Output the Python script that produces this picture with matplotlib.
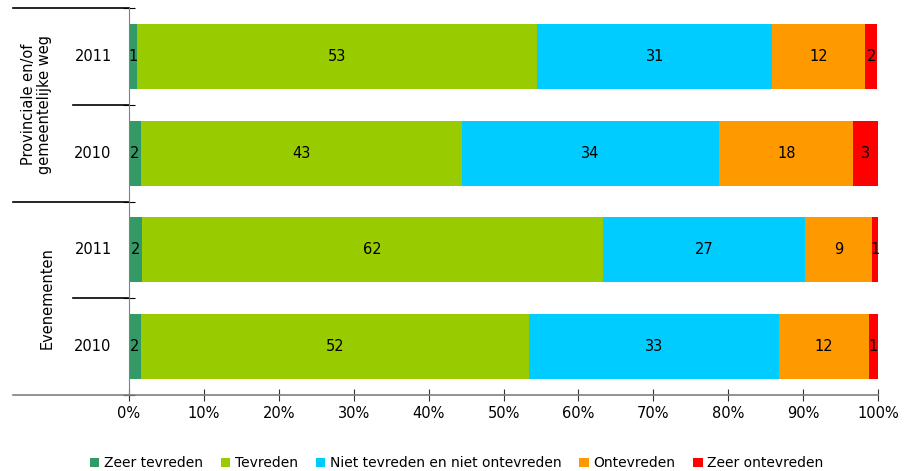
import numpy as np
import matplotlib.pyplot as plt

plt.rcParams['font.family'] = 'DejaVu Sans'

# bars from top to bottom
groups = ['Provinciale en/of\ngemeentelijke weg', 'Evenementen']
years = ['2011', '2010', '2011', '2010']
categories = ['Zeer tevreden', 'Tevreden', 'Niet tevreden en niet ontevreden',
              'Ontevreden', 'Zeer ontevreden']
zeer_tevreden = [1.1, 1.6, 1.7, 1.6]
tevreden = [53.4, 42.8, 61.6, 51.8]
neutraal = [31.4, 34.4, 27.0, 33.4]
ontevreden = [12.4, 17.9, 8.9, 12.0]
zeer_ontevreden = [1.6, 3.3, 0.8, 1.2]
colors = ['#339966', '#99cc00', '#00ccff', '#ff9900', '#ff0000']

series = [zeer_tevreden, tevreden, neutraal, ontevreden, zeer_ontevreden]

fig = plt.figure(figsize=(9.13, 4.71), dpi=100)
ax = fig.add_axes([129 / 913, 1 - 395 / 471, 749 / 913, 387 / 471])

y = np.arange(len(years))[::-1]
left = np.zeros(len(years))
for vals, col, name in zip(series, colors, categories):
    vals = np.array(vals)
    ax.barh(y, vals, left=left, height=0.67, color=col, label=name, linewidth=0)
    for yi, l, v in zip(y, left, vals):
        ax.text(l + v / 2, yi, f'{v:.0f}', ha='center', va='center', fontsize=10.5)
    left += vals

ax.set_xlim(0, 100)
ax.set_ylim(-0.5, 3.5)
ax.set_xticks(np.arange(0, 101, 10))
ax.set_xticklabels([f'{t}%' for t in range(0, 101, 10)], fontsize=10.5)
ax.set_yticks([-0.5, 0.5, 1.5, 2.5, 3.5])
ax.set_yticklabels([])
ax.tick_params(axis='x', direction='inout', length=8, color='#333333', pad=4)
ax.tick_params(axis='y', direction='inout', length=8, color='black')

for s in ['top', 'right']:
    ax.spines[s].set_visible(False)
ax.spines['left'].set_color('#808080')
ax.spines['bottom'].set_color('#808080')
ax.spines['bottom'].set_linewidth(1.2)

# category axis: separators and labels
trans = ax.get_yaxis_transform()
for yb, x0 in [(3.5, -0.155), (2.5, -0.075), (1.5, -0.155), (0.5, -0.075), (-0.5, -0.155)]:
    ax.plot([x0, 0], [yb, yb], color='#808080' if yb == -0.5 else 'black',
            lw=1.2, transform=trans, clip_on=False)

for yi, yr in zip(y, years):
    ax.text(-0.048, yi, yr, transform=trans, ha='center', va='center', fontsize=10.5)
ax.text(-0.123, 2.5, groups[0], transform=trans, ha='center', va='center',
        rotation=90, fontsize=10.5, linespacing=1.1)
ax.text(-0.109, 0.5, groups[1], transform=trans, ha='center', va='center',
        rotation=90, fontsize=10.5)

fig.legend(loc='lower center', ncol=5, frameon=False, fontsize=10,
           handlelength=0.7, handleheight=0.7, handletextpad=0.3,
           columnspacing=1.3, bbox_to_anchor=(0.5, -0.025))

fig.savefig('out.png', dpi=100)
